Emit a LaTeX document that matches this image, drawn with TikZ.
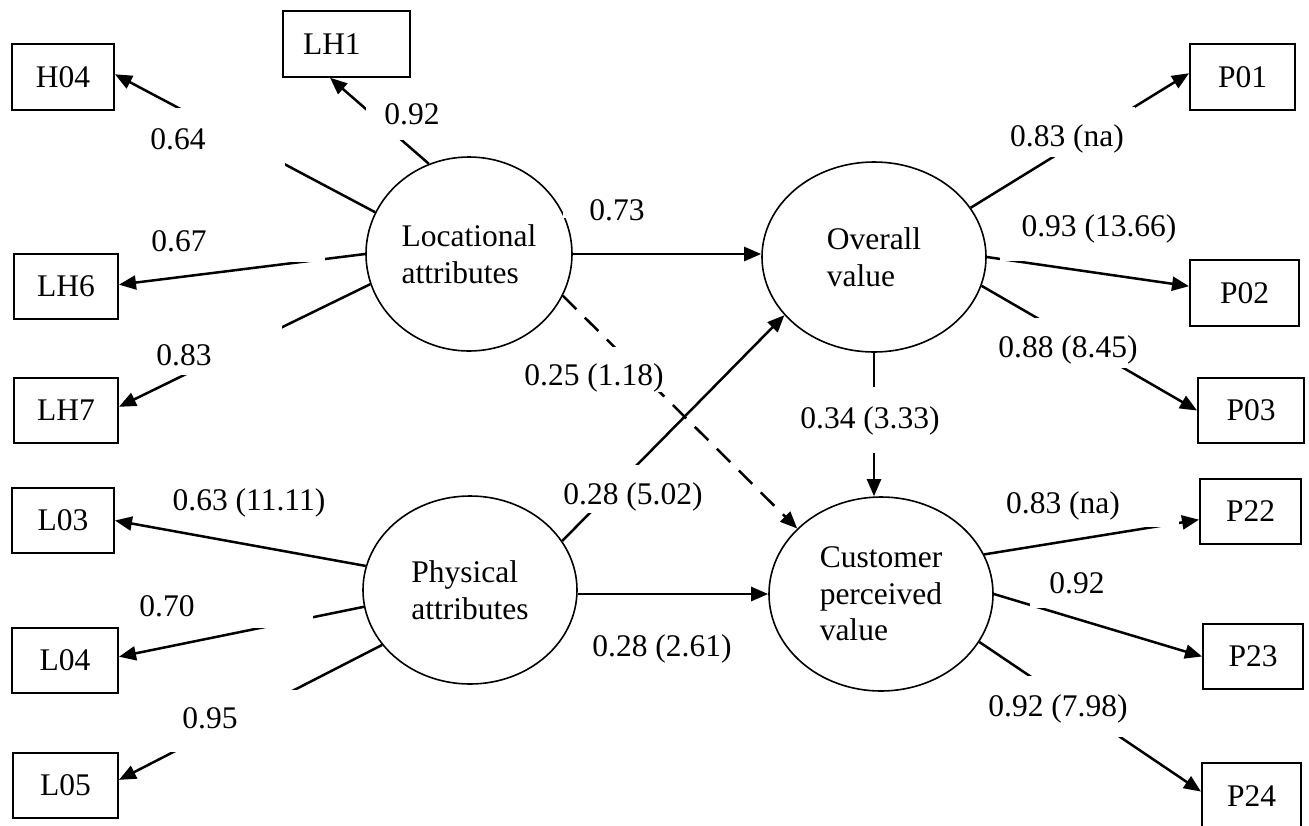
\documentclass[tikz,border=0pt]{standalone}
\usepackage{fontspec}
\setmainfont{Liberation Serif}
\usetikzlibrary{arrows.meta,shapes.geometric}
\begin{document}
\begin{tikzpicture}[x=1pt,y=-1pt,
  every node/.style={font=\fontsize{31.5}{36.5}\selectfont},
  ind/.style={draw,line width=2pt,inner sep=0pt,minimum height=65.5pt},
  lat/.style={draw,ellipse,line width=1.6pt,inner sep=0pt,align=left},
  conn/.style={line width=2.5pt,-{Triangle[length=17pt,width=14pt]}},
  dashconn/.style={conn,dash pattern=on 19pt off 12pt},
  mask/.style={fill=white},
  lbl/.style={inner sep=0pt,text height=21.5pt,text depth=0pt}]
\useasboundingbox (0,0) rectangle (1309,825);

% indicator boxes
\node[ind,minimum width=102pt] (h04) at (63,77) {H04};
\node[ind,minimum width=127pt,inner xsep=20pt,text width=87pt,align=left] (lh1) at (346.5,44) {LH1};
\node[ind,minimum width=104pt] (lh6) at (66,286.5) {LH6};
\node[ind,minimum width=104pt] (lh7) at (66,410.5) {LH7};
\node[ind,minimum width=102pt] (l03) at (63,520.5) {L03};
\node[ind,minimum width=106pt] (l04) at (65,660.5) {L04};
\node[ind,minimum width=105pt] (l05) at (65.5,785.5) {L05};
\node[ind,minimum width=105pt] (p01) at (1242.5,77) {P01};
\node[ind,minimum width=109pt] (p02) at (1244.5,293) {P02};
\node[ind,minimum width=106pt] (p03) at (1251,410.5) {P03};
\node[ind,minimum width=101pt] (p22) at (1250.5,511.5) {P22};
\node[ind,minimum width=100pt] (p23) at (1253,656.5) {P23};
\node[ind,minimum width=99pt] (p24) at (1251.5,796) {P24};

% latent variables
\node[lat,minimum width=206pt,minimum height=194pt] (loc) at (469,254) {Locational\\attributes};
\node[lat,minimum width=224pt,minimum height=190pt] (ov) at (874,257) {Overall\\value};
\node[lat,minimum width=214pt,minimum height=188pt] (phys) at (470,590) {Physical\\attributes};
\node[lat,minimum width=224pt,minimum height=194pt] (cust) at (881,594) {Customer\\perceived\\value};

% connectors
\draw[conn] (loc.156) -- (h04.3);
\draw[conn] (loc.114) -- (lh1.-116);
\draw[conn] (loc.180) -- (lh6.2);
\draw[conn] (loc.197) -- (lh7.4);
\draw[conn] (loc.east) -- (ov.west |- loc.east);
\draw[dashconn] (loc.-24) -- (cust.142);
\draw[conn] (phys.28) -- (ov.213);
\draw[conn] (phys.east |- cust.west) -- (cust.west);
\draw[conn] (ov.south) -- (ov.south |- cust.north);
\draw[conn] (phys.167) -- (l03.east);
\draw[conn] (phys.189) -- (l04.4);
\draw[conn] (phys.212) -- (l05.6);
\draw[conn] (ov.27) -- (p01.176);
\draw[conn] (ov.0) -- (p02.173);
\draw[conn] (ov.-15) -- (p03.west);
\draw[conn] (cust.21) -- (p22.189);
\draw[conn] (cust.0) -- (p23.west);
\draw[conn] (cust.-26) -- (p24.175);

% white label boxes
\fill[mask] (140,108) rectangle (285,168);
\fill[mask] (366,100) rectangle (462,140);
\fill[mask] (140,222) rectangle (325,262);
\fill[mask] (145,322) rectangle (282,375);
\fill[mask] (563,180) rectangle (660,218);
\fill[mask] (520,347) rectangle (665,392);
\fill[mask] (555,465) rectangle (710,513);
\fill[mask] (585,622) rectangle (760,668);
\fill[mask] (800,387) rectangle (945,453);
\fill[mask] (157,485) rectangle (340,524);
\fill[mask] (130,590) rectangle (313,628);
\fill[mask] (160,690) rectangle (298,752);
\fill[mask] (1000,107) rectangle (1135,157);
\fill[mask] (1000,213) rectangle (1185,261);
\fill[mask] (990,318) rectangle (1140,368);
\fill[mask] (1000,480) rectangle (1179,527);
\fill[mask] (1030,565) rectangle (1115,608);
\fill[mask] (985,676) rectangle (1140,737);

% labels
\node[lbl] (t1) at (178,139) {0.64};
\node[lbl] (t2) at (412,114) {0.92};
\node[lbl] (t3) at (179,241) {0.67};
\node[lbl] (t4) at (184,355) {0.83};
\node[lbl] (t5) at (617,210) {0.73};
\node[lbl] (t6) at (594,375) {0.25 (1.18)};
\node[lbl] (t7) at (633,494) {0.28 (5.02)};
\node[lbl] (t8) at (662,646) {0.28 (2.61)};
\node[lbl] (t9) at (870,418) {0.34 (3.33)};
\node[lbl] (t10) at (249,500) {0.63 (11.11)};
\node[lbl] (t11) at (167,606) {0.70};
\node[lbl] (t12) at (210,718) {0.95};
\node[lbl] (t13) at (1067,136) {0.83 (na)};
\node[lbl] (t14) at (1099,226) {0.93 (13.66)};
\node[lbl] (t15) at (1068,347) {0.88 (8.45)};
\node[lbl] (t16) at (1063,503) {0.83 (na)};
\node[lbl] (t17) at (1077,583) {0.92};
\node[lbl] (t18) at (1058,706) {0.92 (7.98)};
\end{tikzpicture}
\end{document}
